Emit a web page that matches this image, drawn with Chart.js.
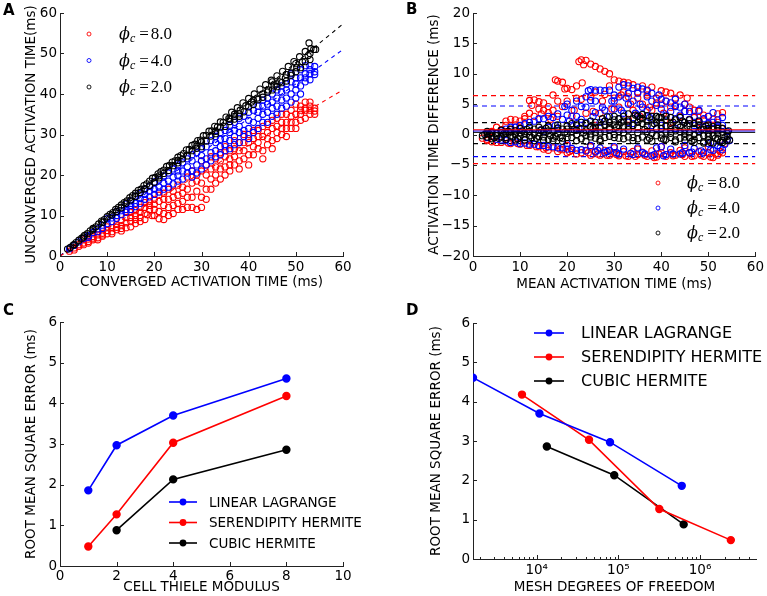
<!DOCTYPE html>
<html>
<head>
<meta charset="utf-8">
<script src="https://cdn.jsdelivr.net/npm/chart.js@4.4.1/dist/chart.umd.min.js"></script>
<style>
  body { margin: 0; background: #fff; }
  #fig { position: relative; width: 767px; height: 596px; }
  canvas { position: absolute; }
  .tag { position: absolute; font: bold 15px "DejaVu Sans", sans-serif; }
</style>
</head>
<body>
<div id="fig">
  <canvas id="chartA" width="384" height="298" style="left:0;top:0"></canvas>
  <canvas id="chartB" width="383" height="298" style="left:384px;top:0"></canvas>
  <canvas id="chartC" width="384" height="298" style="left:0;top:298px"></canvas>
  <canvas id="chartD" width="383" height="298" style="left:384px;top:298px"></canvas>
  <div class="tag" style="left:3px;top:1px">A</div>
  <div class="tag" style="left:406px;top:0px">B</div>
  <div class="tag" style="left:3px;top:301px">C</div>
  <div class="tag" style="left:406px;top:301px">D</div>
</div>
<script>
// ---- data ----
const phiLabels = ["8.0", "4.0", "2.0"];
const phiColors = ["#ff0000", "#0000ff", "#000000"];

// A: converged vs unconverged activation time (ms)
const aRed = [[2,1.2],[3,2.0],[4,2.8],[5,3.2],[5,4.0],[6,3.6],[7,4.8],[7,4.0],[8,4.5],[9,5.6],[9,4.9],[10,5.5],[10,7.2],[11,6.0],[12,7.8],[12,6.5],[13,6.8],[13,8.8],[14,7.0],[14,9.5],[15,7.2],[15,10.8],[16,8.0],[16,11.2],[17,9.5],[17,12.0],[18,10.5],[18,13.2],[18.5,10.2],[19,11.5],[19,12.5],[19.5,10.0],[20,10.0],[20,14.0],[21,9.2],[21,15.0],[22,9.0],[22,12.5],[23,10.0],[23,16.5],[24,10.5],[24,14.5],[25,11.5],[25,17.5],[26,13.5],[26,15.5],[27,14.5],[27,19.5],[28,12.0],[28,21.0],[29,11.5],[29,18.5],[30,12.0],[30,23.5],[31,14.0],[31,20.0],[32,16.5],[32,24.5],[33,18.0],[33,22.0],[34,19.0],[34,25.5],[35,20.0],[35,27.0],[36,21.0],[36,24.0],[37,22.5],[37,28.5],[38,21.5],[38,26.0],[39,24.0],[39,30.0],[40,22.5],[40,28.0],[41,25.0],[41,31.0],[42,26.5],[42,29.5],[43,24.0],[43,32.0],[44,27.5],[44,30.5],[45,26.5],[45,33.5],[46,29.0],[46,32.0],[47,30.0],[47,35.0],[48,29.5],[48,33.0],[49,31.5],[49,36.0],[50,33.0],[50,37.5],[51,35.0],[51,37.0],[52,36.0],[52,38.0],[53,35.0],[53,37.0],[54,35.0],[54,36.5],
  [3,1.5],[4,2.4],[5,2.8],[6,4.2],[6,3.2],[7,4.4],[8,5.2],[8,4.0],[9,5.2],[10,6.3],[11,5.5],[11,7.0],[12,7.1],[13,7.5],[13,6.2],[14,8.2],[15,8.5],[15,9.5],[16,9.0],[16,10.0],[17,8.5],[17,10.8],[18,9.0],[18,12.0],[19,13.5],[20,11.5],[20,12.8],[21,11.0],[21,13.5],[22,10.5],[22,14.0],[22,15.5],[23,12.0],[23,14.0],[24,12.5],[24,16.0],[25,13.0],[25,15.0],[26,11.5],[26,17.0],[27,12.0],[27,16.5],[28,14.5],[28,18.0],[29,16.0],[29,20.0],[30,14.5],[30,18.0],[30,21.0],[31,16.5],[31,22.5],[32,19.0],[32,21.5],[33,20.0],[33,24.0],[34,21.5],[34,23.5],[35,22.0],[35,24.5],[36,22.5],[36,26.0],[37,24.5],[37,26.5],[38,23.5],[38,28.0],[39,26.0],[39,28.0],[40,25.0],[40,30.0],[41,27.0],[41,29.0],[42,28.0],[42,31.0],[43,26.0],[43,29.5],[44,29.0],[44,32.5],[45,28.5],[45,31.5],[46,30.5],[46,34.0],[47,31.5],[47,33.0],[48,31.5],[48,35.0],[49,33.0],[49,34.5],[50,31.5],[50,35.0],[51,33.5],[51,36.0],[52,34.0],[52,36.5],[53,36.0],[53,38.0],[54,35.8]];
const aBlue = [[2,1.8],[3,2.6],[4,3.5],[5,4.3],[6,5.0],[7,5.8],[8,6.7],[9,7.6],[10,8.0],[10,9.2],[11,9.4],[12,10.0],[12,11.0],[13,11.2],[14,11.5],[14,12.8],[15,12.5],[15,13.6],[16,13.0],[16,14.8],[17,14.2],[18,14.0],[18,16.5],[19,16.0],[20,15.2],[20,18.3],[21,17.0],[22,16.5],[22,19.8],[23,18.5],[24,17.8],[24,21.5],[25,19.8],[25,21.0],[26,19.0],[26,23.0],[27,20.5],[27,22.0],[28,19.5],[28,23.5],[28,25.0],[29,22.5],[30,21.5],[30,26.5],[31,24.0],[32,23.5],[32,28.5],[33,26.0],[33,28.0],[34,25.0],[34,30.5],[35,27.5],[35,29.0],[36,26.5],[36,32.3],[37,29.5],[37,31.0],[38,28.0],[38,34.0],[39,31.0],[40,29.0],[40,35.5],[41,33.0],[42,31.5],[42,37.0],[43,35.0],[43,37.0],[44,33.0],[44,39.0],[45,36.5],[45,38.0],[46,35.0],[46,41.0],[47,38.5],[47,40.5],[48,37.0],[48,42.5],[49,40.0],[50,39.0],[50,44.0],[51,42.0],[51,44.0],[52,45.0],[52,47.0],[53,43.5],[53,46.0],[54,46.8],[54,44.8],
  [6,4.6],[8,6.0],[9,6.8],[11,8.5],[12,9.3],[13,10.2],[14,10.8],[15,11.5],[16,12.2],[17,13.0],[17,15.5],[18,15.2],[19,14.6],[19,17.2],[20,16.5],[21,15.8],[21,18.8],[22,18.0],[23,17.0],[23,20.5],[24,19.5],[25,18.5],[25,22.5],[26,21.0],[27,24.0],[28,21.0],[29,20.5],[29,25.5],[30,23.5],[30,24.8],[31,22.5],[31,27.0],[32,25.5],[33,24.5],[33,29.5],[34,27.0],[34,28.8],[35,26.0],[35,31.0],[36,28.5],[36,30.5],[37,27.5],[37,33.0],[38,30.5],[38,32.0],[39,29.5],[39,34.5],[40,31.5],[40,33.5],[41,30.5],[41,36.0],[42,34.0],[42,35.5],[43,33.0],[43,38.5],[44,35.5],[44,37.5],[45,34.5],[45,40.0],[46,37.0],[46,39.0],[47,36.5],[47,42.0],[48,39.0],[48,41.0],[49,38.0],[49,43.0],[49,45.0],[50,41.0],[50,42.5],[51,40.0],[51,46.0],[52,43.0],[52,44.0],[53,45.0],[53,47.0],[54,45.5]];
const aBlack = [[1.6,1.7],[2.2,2.1],[2.8,2.7],[3.4,3.3],[4,3.9],[4.6,4.4],[5.2,5.1],[5.8,5.5],[6.4,6.2],[7,6.8],[7.6,7.2],[8.2,7.9],[8.8,8.6],[9.4,9.0],[10,9.7],[10.6,10.3],[11.2,10.7],[11.8,11.5],[12,11.0],[12.4,12.0],[13,12.6],[13.6,13.2],[14.2,13.6],[14.8,14.4],[15.4,14.9],[16,15.5],[16.6,16.2],[17.2,16.5],[17.8,17.4],[18,16.6],[18.4,17.8],[19,18.5],[19.6,19.2],[20,18.2],[20.2,19.4],[20.8,20.3],[21.4,20.8],[22,21.2],[22.6,22.1],[23.2,22.4],[23.8,23.2],[24,22.3],[24.4,23.5],[25,24.4],[25.6,24.8],[26,24.0],[26.2,25.3],[26.8,26.2],[27.4,26.3],[28,27.3],[28.6,27.6],[29.2,28.5],[29.8,28.6],[30,28.2],[30.4,29.7],[31,29.8],[31.6,30.8],[32.2,30.9],[32.8,32.0],[33.4,31.9],[34,33.1],[34,31.8],[34.6,33.0],[35.2,34.3],[35.8,34.0],[36,33.8],[36.4,35.5],[37,35.0],[37.6,36.6],[38,35.1],[38.2,36.0],[38.8,37.8],[39.4,37.1],[40,38.9],[40.6,38.0],[41.2,40.0],[41.8,39.0],[42,38.6],[42.4,41.2],[43,40.0],[43.6,42.3],[44.2,41.0],[44.8,43.4],[45.4,42.0],[46,44.5],[46,41.8],[46.6,43.0],[47.2,45.6],[47.8,44.0],[48,43.2],[48.4,46.8],[49,45.2],[49.6,48.0],[50,45.5],[50.2,46.5],[50.8,49.2],[51.4,48.0],[52,50.5],[52.6,49.5],[52.8,52.6],[53.2,51.2],[53.8,51.0],[54.2,51.0],
  [3,2.8],[5,4.7],[7,6.5],[9,8.3],[11,10.1],[13,11.9],[15,13.8],[17,15.7],[19,17.4],[21,19.3],[23,21.1],[25,23.0],[27,24.7],[29,26.6],[31,28.4],[33,30.2],[35,32.0],[37,33.8],[39,35.6],[41,37.4],[43,39.2],[45,41.0],[47,42.8],[49,44.6],[51,46.5],[53,48.5],[14,13.0],[16,14.7],[22,20.4],[28,26.0],[32,29.6],[36,33.2],[40,36.8],[44,40.5],[48,44.8],[52,48.0],[45,43.0],[41,38.5],[37,34.5],[33,30.8],[29,27.2],[25,23.6],[21,19.8],[30,27.0],[38,34.5],[46,42.5],[50,47.5],[53,50.0]];
// dashed fit lines, value at x = 0 and x = 60
const fitAt0 = [0, 0, 0];
const fitAt60 = [41, 51, 57.3];

// B: mean activation time vs difference (ms)
const bRed = [[2,-0.6],[3,-1.0],[4,-1.2],[5,-1.3],[6,0.8],[7,2.2],[7.5,-1.4],[8,2.5],[9,1.6],[9.5,-1.5],[10,2.2],[11,3.0],[11.5,-1.8],[12,5.6],[12.5,4.8],[13,5.7],[13.5,-2.0],[14,5.4],[14.5,3.4],[15,4.0],[15.5,-2.2],[16,4.6],[16.5,2.5],[17,6.5],[17.5,9.0],[18,8.8],[18,3.0],[18.5,-2.4],[19,8.6],[19.5,7.5],[20,7.6],[20,-1.8],[20.5,-2.8],[21,7.4],[21.5,4.0],[22,6.0],[22.5,12.0],[23,12.3],[23.2,8.5],[23.5,11.5],[24,12.2],[24.5,-3.0],[25,11.6],[25,-2.0],[25.5,3.8],[26,11.2],[26,1.5],[26.5,-3.2],[27,10.8],[27.5,5.5],[28,10.4],[28.5,-3.4],[29,10.0],[29.5,4.2],[30,9.0],[30,-2.2],[30.5,-3.3],[31,8.8],[31.5,6.5],[32,8.6],[32.5,-3.5],[33,8.5],[33,2.5],[33.5,5.0],[34,8.2],[34.5,-3.6],[35,7.0],[35,-2.4],[35.5,3.0],[36,8.0],[36.5,-3.4],[37,6.5],[37.5,4.5],[38,7.8],[38.5,-3.8],[39,6.0],[39.5,-3.2],[40,7.2],[40,-2.0],[40.5,3.5],[41,5.5],[42,6.8],[42,2.0],[42.5,-3.5],[43,4.8],[44,6.5],[44.5,-3.3],[45,3.8],[45,-2.2],[45.5,6.0],[46,2.5],[46.5,-3.6],[47,4.0],[48,2.0],[48.5,-3.4],[49,3.2],[50,1.5],[50,-2.0],[50.5,-3.7],[51,2.5],[51.5,-3.2],[52,3.4],[52.5,-2.8],[53,1.0],[53.5,-1.5],
  [3,-0.8],[4,0.5],[5,1.2],[6,-1.3],[7,1.5],[8,-1.5],[8,0.8],[9,2.4],[10,-1.6],[10,1.0],[11,2.6],[12,-1.8],[12,3.5],[13,3.0],[14,-2.0],[14,4.2],[15,5.2],[15,-2.4],[16,3.6],[16,-2.6],[17,-2.2],[17,4.0],[18,5.5],[18,-2.8],[19,4.6],[19,-2.5],[20,5.5],[20,-3.0],[21,-2.6],[21,3.0],[22,-3.2],[22,8.0],[23,-3.0],[23,5.8],[24,-2.6],[24,3.5],[25,-3.4],[25,6.2],[26,-2.8],[26,7.0],[27,-3.4],[27,3.5],[28,-2.6],[28,6.6],[29,-3.4],[29,8.0],[30,-3.0],[30,6.0],[31,-3.5],[31,4.5],[32,-2.8],[32,7.0],[33,-3.6],[33,6.2],[34,-2.8],[34,4.0],[35,-3.3],[35,6.0],[36,-2.9],[36,5.0],[37,-3.6],[37,7.2],[38,-2.7],[38,4.0],[39,-3.7],[39,5.2],[40,-3.0],[40,5.0],[41,-3.6],[41,7.0],[42,-3.0],[42,4.5],[43,-3.4],[43,6.0],[44,-2.6],[44,3.0],[45,-3.6],[45,5.0],[46,-3.0],[46,4.5],[47,-3.5],[47,2.8],[48,-2.8],[48,3.8],[49,-3.6],[49,2.4],[50,-3.0],[50,3.0],[51,-3.8],[51,1.0],[52,-3.4],[52,2.0],[53,-3.0],[53,3.6]];
const bBlue = [[3,-0.5],[5,-0.8],[6,0.6],[7,-1.0],[8,1.2],[9,-1.2],[10,1.5],[11,-1.4],[12,2.0],[13,-1.6],[14,2.6],[14.5,0.8],[15,-1.8],[16,3.0],[17,-2.0],[17.5,1.5],[18,3.4],[19,-2.2],[19.5,4.6],[20,5.0],[20,-1.5],[20.5,2.2],[21,-2.3],[22,5.5],[22,1.8],[22.5,1.0],[23,-2.5],[24,6.2],[24.5,7.2],[25,7.4],[25,-1.8],[25.5,3.0],[26,7.3],[26.5,-2.6],[27,7.3],[27.5,4.5],[28,7.2],[28,2.2],[28.5,-2.8],[29,7.3],[29.5,5.5],[30,6.5],[30,-2.0],[30.5,-3.0],[31,7.8],[31.5,4.0],[32,8.2],[32.5,6.0],[33,8.0],[33,2.0],[33.5,-3.1],[34,7.6],[34.5,3.5],[35,6.8],[35,-2.2],[35.5,5.0],[36,7.5],[36.5,-3.2],[37,6.2],[37.5,2.8],[38,5.5],[38,1.5],[38.5,-3.3],[39,4.8],[39.5,6.5],[40,4.2],[40,-2.0],[40.5,-3.5],[41,5.5],[42,3.8],[42.5,-3.2],[43,4.6],[43,1.0],[44,3.2],[44.5,-3.0],[45,3.8],[45,-1.8],[46,2.5],[46.5,-2.9],[47,3.0],[48,2.2],[48,0.6],[48.5,-2.7],[49,2.6],[50,1.8],[50,-1.5],[50.5,-2.5],[51,2.0],[52,1.2],[52.5,-2.2],[53,1.5],[53.5,-1.6],[54,-0.8],[54.5,-1.0],
  [4,0.3],[6,-0.9],[7,0.9],[8,-1.3],[9,1.2],[10,-1.5],[11,1.8],[12,-1.6],[13,2.2],[14,-1.8],[15,2.6],[15,0.5],[16,-2.0],[16,1.2],[17,2.8],[18,-2.2],[18,1.0],[19,2.5],[20,-2.4],[20,3.2],[21,1.5],[21,4.0],[22,-2.6],[22,3.0],[23,2.5],[23,4.6],[24,-2.7],[24,2.0],[24,4.5],[25,5.6],[25,1.2],[26,-2.9],[26,3.6],[26,5.5],[27,2.0],[27,-2.2],[28,-3.0],[28,4.0],[29,3.0],[29,-2.6],[30,4.2],[30,5.5],[31,-3.2],[31,2.6],[31,6.2],[32,3.5],[32,-2.4],[33,5.0],[33,6.8],[34,-3.3],[34,5.5],[34,1.8],[35,3.2],[35,7.8],[36,-3.0],[36,4.5],[37,7.3],[37,4.0],[38,-3.5],[38,6.8],[39,3.0],[39,-2.2],[40,5.8],[40,1.5],[41,-3.3],[41,3.2],[42,5.2],[42,-2.4],[43,2.6],[43,5.8],[44,-3.2],[44,4.5],[45,2.0],[45,5.0],[46,-3.0],[46,3.8],[47,1.5],[47,-2.3],[48,4.0],[49,-3.0],[49,1.2],[50,3.0],[51,-2.6],[51,3.6],[52,-1.8],[52,2.4],[53,-2.5],[53,2.8],[54,0.5]];
const bBlack = [[2,-0.2],[3,-0.4],[3.5,0.1],[4,-0.3],[5,0.2],[5.5,-0.6],[6,0.3],[7,-0.5],[7.5,0.5],[8,-0.2],[9,0.6],[9.5,-0.7],[10,0.3],[11,-0.5],[11.5,0.8],[12,-0.2],[13,0.9],[13.5,-0.6],[14,0.3],[15,-0.4],[15.5,1.0],[16,-0.8],[17,0.5],[17.5,-0.3],[18,1.1],[19,-0.6],[19.5,0.4],[20,1.4],[20,0.2],[21,-0.5],[21.5,0.8],[22,1.6],[22,-0.1],[23,-0.7],[23.5,0.3],[24,1.8],[25,-0.4],[25,0.1],[25.5,1.0],[26,2.0],[27,-0.8],[27,0.4],[27.5,2.6],[28,0.5],[28.5,2.9],[29,-0.3],[30,2.4],[30,0.0],[30.5,1.2],[31,-0.6],[31.5,2.0],[32,3.0],[32,0.3],[33,-0.4],[33,3.4],[34,1.5],[34.5,3.2],[35,-0.7],[35,0.3],[35.5,2.6],[36,3.3],[36.5,0.8],[37,2.2],[37,0.5],[37.5,-0.6],[38,3.0],[38.5,1.8],[39,-0.2],[39.5,2.8],[40,1.0],[40,-0.1],[40.5,-0.8],[41,2.4],[42,0.2],[42,0.8],[42.5,2.0],[43,-0.9],[43.5,1.6],[44,0.5],[44.5,2.2],[45,-1.0],[45,0.2],[45.5,1.4],[46,0.3],[46.5,-1.1],[47,1.8],[47,0.0],[48,-0.5],[48.5,0.9],[49,-1.2],[49.5,1.4],[50,0.2],[50,-0.3],[50.5,-1.3],[51,0.8],[51.5,-0.6],[52,1.0],[52,0.1],[52.5,-1.2],[53,0.4],[53.5,-0.5],[54,-1.0],[54.3,0.6],[54.5,-0.9],
  [2.5,0.0],[3,0.2],[4,0.3],[4.5,-0.5],[5,-0.2],[6,-0.4],[6.5,0.1],[7,0.2],[8,0.4],[8.5,-0.4],[9,0.0],[10,-0.3],[10.5,0.6],[11,0.2],[12,0.5],[12.5,-0.5],[13,0.1],[14,-0.3],[14.5,0.7],[15,0.3],[16,0.6],[16.5,-0.2],[17,-0.6],[18,0.2],[18.5,-0.5],[19,0.9],[20,-0.5],[21,0.4],[22,0.7],[23,0.9],[24,-0.2],[24,0.6],[25,1.3],[26,0.3],[26,-0.6],[27,1.2],[28,-0.5],[28,1.6],[29,0.8],[29,2.0],[30,-0.5],[30,1.6],[31,0.5],[31,2.6],[32,-0.7],[32,1.4],[33,0.8],[33,2.2],[34,-0.5],[34,2.6],[35,1.2],[35,3.0],[36,-0.4],[36,1.8],[37,-0.9],[37,3.1],[38,0.2],[38,2.4],[39,1.0],[39,3.0],[40,-0.6],[40,2.0],[41,0.4],[41,-0.8],[41,1.4],[42,2.8],[42,-0.5],[43,0.6],[43,2.4],[44,-0.6],[44,1.2],[45,0.8],[45,2.0],[46,-0.5],[46,1.8],[47,-0.8],[47,1.0],[48,0.4],[48,1.6],[49,-0.2],[49,0.8],[50,1.0],[50,-0.9],[51,-0.2],[51,1.3],[52,-0.7],[52,0.6],[53,-1.0],[53,1.0],[54,0.2],[54,-0.3],
  [3,0.5],[4,-0.7],[6,0.7],[7,-0.8],[8,0.9],[9,-0.9],[10,1.0],[11,-0.9],[12,1.2],[13,-1.0],[14,1.2],[15,-1.0],[16,1.4],[17,-1.0],[18,1.6],[19,-1.1],[20,0.9],[21,1.8],[22,-1.0],[23,2.0],[24,-1.1],[25,2.2],[26,1.2],[27,-1.1],[28,2.2],[29,1.2],[30,3.0],[31,1.5],[32,2.2],[33,1.4],[34,-1.0],[35,2.0],[36,2.6],[37,1.4],[38,-1.1],[39,2.0],[40,2.8],[41,3.0],[42,1.5],[43,-1.2],[44,2.8],[45,-0.4],[46,2.4],[47,-1.3],[48,2.2],[49,-1.4],[50,1.6],[51,-1.4],[52,1.6],[53,-1.3]];
// mean difference and limits of agreement
const meanDiff = [0.78, 0.58, 0.35];
const upperLimit = [6.4, 4.7, 1.95];
const lowerLimit = [-4.8, -3.65, -1.5];

// C and D: RMS error
const methods = ["LINEAR LAGRANGE", "SERENDIPITY HERMITE", "CUBIC HERMITE"];
const methodColors = ["#0000ff", "#ff0000", "#000000"];
const thieleLinear = [1, 2, 4, 8];
const thieleSerendipity = [1, 2, 4, 8];
const thieleCubic = [2, 4, 8];
const rmsLinear = [1.86, 2.97, 3.70, 4.61];
const rmsSerendipity = [0.48, 1.27, 3.03, 4.18];
const rmsCubic = [0.88, 2.13, 2.86];
// degrees of freedom, ordered from coarse to fine mesh (thiele 8 -> 1)
const dofLinear = [1660, 10800, 79000, 597000];
const dofSerendipity = [6600, 43700, 317000, 2380000];
const dofCubic = [13300, 89000, 630000];

// ---- helpers ----
Chart.defaults.font.family = '"DejaVu Sans", sans-serif';
Chart.defaults.color = "#000";
Chart.defaults.animation = false;
Chart.defaults.events = [];
Chart.defaults.plugins.legend.display = false;
Chart.defaults.plugins.tooltip.enabled = false;

const TICK = 13.5, TITLE = 13.5;
const pts = (xs, ys) => xs.map((x, i) => ({ x: x, y: ys[i] }));
const minus = v => String(v).replace("-", "\u2212");

function axis(opts) {
  return Object.assign({
    grid: { display: false, drawTicks: false },
    border: { display: true, color: "#222", width: 1 }
  }, opts);
}

// matplotlib-style ticks pointing into the axes
const innerTicks = {
  id: "innerTicks",
  afterDatasetsDraw(chart) {
    const { ctx, chartArea: a, scales } = chart;
    ctx.save();
    ctx.strokeStyle = "#222";
    ctx.lineWidth = 1;
    scales.x.ticks.forEach(t => {
      const px = Math.round(scales.x.getPixelForValue(t.value)) + 0.5;
      if (px < a.left - 1 || px > a.right + 1) return;
      const len = t.major === false ? 2 : 4;
      ctx.beginPath(); ctx.moveTo(px, a.bottom); ctx.lineTo(px, a.bottom - len); ctx.stroke();
    });
    scales.y.ticks.forEach(t => {
      const py = Math.round(scales.y.getPixelForValue(t.value)) + 0.5;
      ctx.beginPath(); ctx.moveTo(a.left, py); ctx.lineTo(a.left + 4, py); ctx.stroke();
    });
    ctx.restore();
  }
};

// legend drawn inside the axes
const boxLegend = {
  id: "boxLegend",
  afterDraw(chart, args, o) {
    const ctx = chart.ctx;
    ctx.save();
    o.labels.forEach((label, i) => {
      const y = o.y + i * o.step;
      const color = o.colors[i];
      if (o.kind === "line") {
        ctx.strokeStyle = color; ctx.lineWidth = 1.6;
        ctx.beginPath(); ctx.moveTo(o.x, y); ctx.lineTo(o.x + o.len, y); ctx.stroke();
        ctx.fillStyle = color;
        ctx.beginPath(); ctx.arc(o.x + o.len / 2, y, 3.4, 0, 2 * Math.PI); ctx.fill();
        ctx.fillStyle = "#000";
        ctx.font = o.font;
        ctx.textBaseline = "middle";
        ctx.fillText(label, o.tx, y + 1);
      } else {
        ctx.strokeStyle = color; ctx.lineWidth = 0.9;
        ctx.beginPath(); ctx.arc(o.x, y, 2, 0, 2 * Math.PI); ctx.stroke();
        ctx.fillStyle = "#000";
        ctx.textBaseline = "alphabetic";
        const base = y + 5;
        let x = o.tx;
        ctx.font = 'italic 16px "DejaVu Serif", serif';
        ctx.fillText("\u03d5", x, base); x += ctx.measureText("\u03d5").width;
        ctx.font = 'italic 12px "Liberation Serif", serif';
        ctx.fillText("c", x, base + 3); x += ctx.measureText("c").width + 4;
        ctx.font = '17px "Liberation Serif", serif';
        ctx.fillText("=", x, base); x += ctx.measureText("=").width + 2;
        ctx.fillText(label, x, base);
      }
    });
    ctx.restore();
  }
};

function scatterSet(data, i) {
  return {
    label: "\u03d5c = " + phiLabels[i], data: data, order: 3 - i,
    borderColor: phiColors[i], backgroundColor: "rgba(0,0,0,0)",
    pointRadius: 3.1, borderWidth: 1.1
  };
}
function hline(x0, x1, y0, y1, color, dash, order, width) {
  return {
    data: [{ x: x0, y: y0 }, { x: x1, y: y1 }], showLine: true, order: order,
    borderColor: color, borderWidth: width || 1.1, borderDash: dash, pointRadius: 0
  };
}
function linTicks(step, pad) {
  return { font: { size: TICK }, padding: pad, stepSize: step, callback: v => minus(v) };
}
function title(text, pad) {
  return { display: true, text: text, font: { size: TITLE }, padding: pad };
}

// ---- A ----
new Chart(document.getElementById("chartA"), {
  type: "scatter",
  data: {
    datasets: [
      ...[aRed, aBlue, aBlack].map(scatterSet),
      ...phiColors.map((c, i) => hline(0, 60, fitAt0[i], fitAt60[i], c, [4, 4], 10))
    ]
  },
  options: {
    responsive: false,
    layout: { padding: { top: 13, right: 41, left: 0, bottom: 0 } },
    scales: {
      x: axis({ min: 0, max: 60, ticks: linTicks(10, 3),
        title: title("CONVERGED ACTIVATION TIME (ms)", { bottom: 7 }),
        afterFit: s => { s.height = 42; } }),
      y: axis({ min: 0, max: 60, ticks: linTicks(10, 3),
        title: title("UNCONVERGED ACTIVATION TIME(ms)", { top: 23 }),
        afterFit: s => { s.width = 60; } })
    },
    plugins: {
      boxLegend: { kind: "phi", labels: phiLabels, colors: phiColors, x: 89, y: 34, step: 26.5, tx: 119 }
    }
  },
  plugins: [innerTicks, boxLegend]
});

// ---- B ----
new Chart(document.getElementById("chartB"), {
  type: "scatter",
  data: {
    datasets: [
      ...[bRed, bBlue, bBlack].map(scatterSet),
      ...phiColors.map((c, i) => hline(0, 60, upperLimit[i], upperLimit[i], c, [5, 4], 10)),
      ...phiColors.map((c, i) => hline(0, 60, lowerLimit[i], lowerLimit[i], c, [5, 4], 10)),
      ...phiColors.map((c, i) => hline(0, 60, meanDiff[i], meanDiff[i], c, [], 0, 1))
    ]
  },
  options: {
    responsive: false,
    layout: { padding: { top: 13, right: 11, left: 0, bottom: 0 } },
    scales: {
      x: axis({ min: 0, max: 60, ticks: linTicks(10, 3),
        title: title("MEAN ACTIVATION TIME (ms)", { bottom: 5 }),
        afterFit: s => { s.height = 42; } }),
      y: axis({ min: -20, max: 20, ticks: linTicks(5, 3),
        title: title("ACTIVATION TIME DIFFERENCE (ms)", { top: 42 }),
        afterFit: s => { s.width = 89; } })
    },
    plugins: {
      boxLegend: { kind: "phi", labels: phiLabels, colors: phiColors, x: 274, y: 183, step: 25, tx: 303 }
    }
  },
  plugins: [innerTicks, boxLegend]
});

// ---- C ----
function rmsSet(xs, ys, i) {
  return {
    label: methods[i], data: pts(xs, ys), showLine: true,
    borderColor: methodColors[i], backgroundColor: methodColors[i],
    borderWidth: 1.6, pointRadius: 3.4
  };
}
new Chart(document.getElementById("chartC"), {
  type: "scatter",
  data: {
    datasets: [
      rmsSet(thieleLinear, rmsLinear, 0),
      rmsSet(thieleSerendipity, rmsSerendipity, 1),
      rmsSet(thieleCubic, rmsCubic, 2)
    ]
  },
  options: {
    responsive: false,
    layout: { padding: { top: 24, right: 41, left: 0, bottom: 0 } },
    scales: {
      x: axis({ min: 0, max: 10, ticks: linTicks(2, 2),
        title: title("CELL THIELE MODULUS", { bottom: 0 }),
        afterFit: s => { s.height = 30; } }),
      y: axis({ min: 0, max: 6, ticks: linTicks(1, 3),
        title: title("ROOT MEAN SQUARE ERROR (ms)", { top: 23 }),
        afterFit: s => { s.width = 60; } })
    },
    plugins: {
      boxLegend: { kind: "line", labels: methods, colors: methodColors, x: 169, len: 28, y: 204, step: 20.5, tx: 209,
        font: '13.5px "DejaVu Sans", sans-serif' }
    }
  },
  plugins: [innerTicks, boxLegend]
});

// ---- D ----
const sup = { 3: "\u00b3", 4: "\u2074", 5: "\u2075", 6: "\u2076" };
new Chart(document.getElementById("chartD"), {
  type: "scatter",
  data: {
    datasets: [
      rmsSet(dofLinear, rmsLinear.slice().reverse(), 0),
      rmsSet(dofSerendipity, rmsSerendipity.slice().reverse(), 1),
      rmsSet(dofCubic, rmsCubic.slice().reverse(), 2)
    ]
  },
  options: {
    responsive: false,
    layout: { padding: { top: 25, right: 11, left: 0, bottom: 0 } },
    scales: {
      x: axis({ type: "logarithmic", min: dofLinear[0], max: 4.84e6,
        afterBuildTicks: s => {
          const t = [];
          for (let e = 3; e <= 6; e++) {
            for (let m = 1; m <= 9; m++) {
              const v = m * Math.pow(10, e);
              if (v >= s.min && v <= s.max) t.push({ value: v, major: m === 1 });
            }
          }
          s.ticks = t;
        },
        ticks: { font: { size: TICK }, padding: 3, autoSkip: false, maxRotation: 0,
          callback: (v, i, t) => t[i].major ? "10" + sup[Math.round(Math.log10(v))] : "" },
        title: title("MESH DEGREES OF FREEDOM", { bottom: 0 }),
        afterFit: s => { s.height = 37; } }),
      y: axis({ min: 0, max: 6, ticks: linTicks(1, 3),
        title: title("ROOT MEAN SQUARE ERROR (ms)", { top: 44 }),
        afterFit: s => { s.width = 89; } })
    },
    plugins: {
      boxLegend: { kind: "line", labels: methods, colors: methodColors, x: 150, len: 30, y: 35, step: 24, tx: 197,
        font: '16px "DejaVu Sans", sans-serif' }
    }
  },
  plugins: [innerTicks, boxLegend]
});
</script>
</body>
</html>
